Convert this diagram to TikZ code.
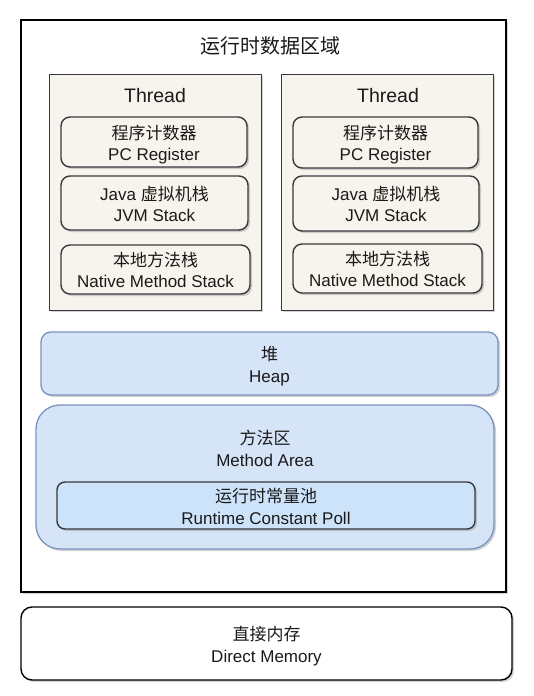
\documentclass[tikz,border=0pt]{standalone}
\usepackage{fontspec}
\setmainfont{Liberation Sans}
\newfontfamily\cjk{Noto Sans CJK SC}
\usetikzlibrary{shadows}
\newcommand{\zh}[1]{{\cjk #1}}
\newcommand{\twolines}[2]{\raisebox{-3.5pt}[\height][\depth]{\setlength{\tabcolsep}{0pt}\begin{tabular}{c}#1\\#2\end{tabular}}}
\definecolor{beige}{HTML}{F6F4EC}
\definecolor{darkline}{HTML}{36393D}
\definecolor{heapfill}{HTML}{D6E4F8}
\definecolor{heapline}{HTML}{7A93BD}
\definecolor{poolfill}{HTML}{CCE3FA}
\definecolor{txt}{HTML}{1A1A1A}
\tikzset{
  shd/.style={drop shadow={shadow xshift=2pt, shadow yshift=-2pt, opacity=0.35, fill=gray}},
  outerbox/.style={draw=black, line width=1.6pt, fill=white, shd, minimum width=485pt, minimum height=572pt},
  threadbox/.style={draw=darkline, line width=1pt, fill=beige, shd, minimum width=212pt, minimum height=236pt},
  innerbox/.style={draw=darkline, line width=1.4pt, fill=beige, rounded corners=9pt, shd, align=center, text=txt, font=\fontsize{17}{21}\selectfont, inner sep=0pt},
  bluebox/.style={draw=heapline, line width=1.3pt, fill=heapfill, shd, align=center, text=txt, font=\fontsize{17}{22}\selectfont, inner sep=0pt},
  poolbox/.style={draw=darkline, line width=1.4pt, fill=poolfill, rounded corners=8pt, shd, align=center, text=txt, font=\fontsize{17}{22}\selectfont, inner sep=0pt},
  membox/.style={draw=black, line width=1.4pt, fill=white, rounded corners=11pt, shd, align=center, text=txt, font=\fontsize{17}{22}\selectfont, inner sep=0pt},
  titletxt/.style={text=txt, font=\cjk\fontsize{20}{24}\selectfont},
  threadtxt/.style={text=txt, font=\fontsize{19.5}{24}\selectfont},
  plaintxt/.style={text=txt, align=center, font=\fontsize{17}{22}\selectfont}
}
\begin{document}
\begin{tikzpicture}[x=1pt, y=-1pt]
\useasboundingbox (0,0) rectangle (533,696);
% outer runtime data area
\node[outerbox] (outer) at (263.5,306) {};
\node[titletxt] (title) at (270,46) {运行时数据区域};
% left thread
\node[threadbox] (tl) at (155,192) {};
\node[threadtxt] (tlt) at (155,95.5) {Thread};
\node[innerbox, minimum width=186pt, minimum height=50pt] (pcl) at (154,142) {\twolines{\zh{程序计数器}}{PC Register}};
\node[innerbox, minimum width=187pt, minimum height=54pt] (jvml) at (154.5,203) {\twolines{Java \zh{虚拟机栈}}{JVM Stack}};
\node[innerbox, minimum width=189pt, minimum height=49pt] (nml) at (155.5,269.5) {\twolines{\zh{本地方法栈}}{Native Method Stack}};
% right thread
\node[threadbox] (tr) at (387,192) {};
\node[threadtxt] (trt) at (388,95.5) {Thread};
\node[innerbox, minimum width=185pt, minimum height=51pt] (pcr) at (385.5,142.5) {\twolines{\zh{程序计数器}}{PC Register}};
\node[innerbox, minimum width=186pt, minimum height=55pt] (jvmr) at (386,203.5) {\twolines{Java \zh{虚拟机栈}}{JVM Stack}};
\node[innerbox, minimum width=189pt, minimum height=49pt] (nmr) at (387.5,268.5) {\twolines{\zh{本地方法栈}}{Native Method Stack}};
% heap
\node[bluebox, rounded corners=10pt, minimum width=457pt, minimum height=63pt] (heap) at (269.5,363.5) {\twolines{\zh{堆}}{Heap}};
% method area
\node[bluebox, rounded corners=24pt, minimum width=458pt, minimum height=144pt] (method) at (265,477) {};
\node[plaintxt] (methodt) at (265,447.5) {\twolines{\zh{方法区}}{Method Area}};
\node[poolbox, minimum width=418pt, minimum height=47pt] (pool) at (266,505.5) {\twolines{\zh{运行时常量池}}{Runtime Constant Poll}};
% direct memory
\node[membox, minimum width=491pt, minimum height=73pt] (direct) at (266.5,643.5) {\twolines{\zh{直接内存}}{Direct Memory}};
\end{tikzpicture}
\end{document}
